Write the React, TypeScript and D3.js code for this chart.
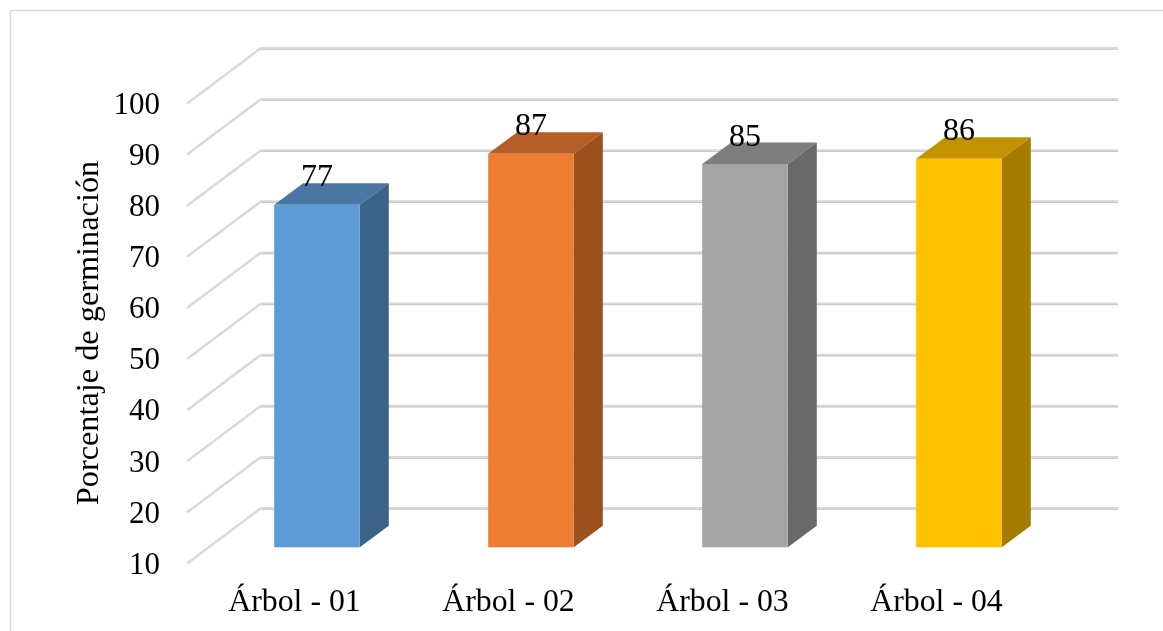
import React from "react";
import * as d3 from "d3";

const categories = ["Árbol - 01", "Árbol - 02", "Árbol - 03", "Árbol - 04"];
const values = [77, 87, 85, 86];
const yTicks = [10, 20, 30, 40, 50, 60, 70, 80, 90, 100];
const axisTitle = "Porcentaje de germinación";
const frontColors = ["#5B9BD5", "#ED7D31", "#A5A5A5", "#FFC000"];
const topColors = ["#4876A2", "#B55F25", "#7E7E7E", "#C29200"];
const sideColors = ["#3A6488", "#9A511F", "#696969", "#A67C00"];

const W = 1163;
const H = 631;
const FONT = "'Liberation Serif', 'Times New Roman', serif";

const yBack = d3.scaleLinear().domain([10, 100]).range([508, 48]);
const yFront = d3.scaleLinear().domain([10, 100]).range([563.5, 103.5]);
const yBar = d3.scaleLinear().domain([10, 100]).range([547.3, 87.3]);
const xBand = d3.scaleBand<string>().domain(categories).range([210, 1066]).padding(0);

const backLeft = 261;
const backRight = 1118;
const frontLeft = 187;
const barW = xBand.bandwidth() * 0.4;
const depthX = 29;
const depthY = 21.5;

const poly = (pts: [number, number][]) => {
  const p = d3.path();
  pts.forEach(([x, y], i) => (i ? p.lineTo(x, y) : p.moveTo(x, y)));
  p.closePath();
  return p.toString();
};

export default function App() {
  return (
    <svg
      width={W}
      height={H}
      viewBox={`0 0 ${W} ${H}`}
      style={{ position: "absolute", left: 0, top: 0, background: "#fff" }}
    >
      <defs>
        <filter id="soft" x="0" y="0" width="100%" height="100%" filterUnits="userSpaceOnUse">
          <feGaussianBlur stdDeviation="0.35" />
        </filter>
      </defs>
      <g filter="url(#soft)">
        <path d={`M10.5 ${H + 5}V10.5H${W + 5}`} fill="none" stroke="#d9d9d9" strokeWidth={1.5} />

        {yTicks.map((t) => (
          <g key={t}>
            <line x1={backLeft} x2={backRight} y1={yBack(t) + 1} y2={yBack(t) + 1} stroke="#bfbfbf" strokeWidth={1.5} />
            <line x1={backLeft} x2={backRight} y1={yBack(t)} y2={yBack(t)} stroke="#d9d9d9" strokeWidth={2} />
            <line x1={frontLeft} x2={backLeft} y1={yFront(t)} y2={yBack(t)} stroke="#d9d9d9" strokeWidth={2.5} />
            <text x={160} y={yFront(t)} dy="0.33em" textAnchor="end" fontFamily={FONT} fontSize={31} fill="#000">
              {t}
            </text>
          </g>
        ))}

        {categories.map((c, i) => {
          const x0 = xBand(c)! + (xBand.bandwidth() - barW) / 2;
          const x1 = x0 + barW;
          const yT = yBar(values[i]);
          const yB = yBar(10);
          return (
            <g key={c}>
              <path
                d={poly([[x0, yT], [x0 + depthX, yT - depthY], [x1 + depthX, yT - depthY], [x1, yT]])}
                fill={topColors[i]}
              />
              <path
                d={poly([[x1, yT], [x1 + depthX, yT - depthY], [x1 + depthX, yB - depthY], [x1, yB]])}
                fill={sideColors[i]}
              />
              <rect x={x0} y={yT} width={barW} height={yB - yT} fill={frontColors[i]} />
            </g>
          );
        })}

        {categories.map((c, i) => {
          const cx = xBand(c)! + xBand.bandwidth() / 2;
          return (
            <g key={c} fontFamily={FONT} fill="#000" textAnchor="middle">
              <text x={cx} y={yBar(values[i]) - 29} dy="0.33em" fontSize={32}>
                {values[i]}
              </text>
              <text x={cx - 22.5} y={610.5} fontSize={31.8}>
                {c}
              </text>
            </g>
          );
        })}

        <text
          transform="translate(97.5,333) rotate(-90)"
          textAnchor="middle"
          fontFamily={FONT}
          fontSize={32.3}
          fill="#000"
        >
          {axisTitle}
        </text>
      </g>
    </svg>
  );
}
